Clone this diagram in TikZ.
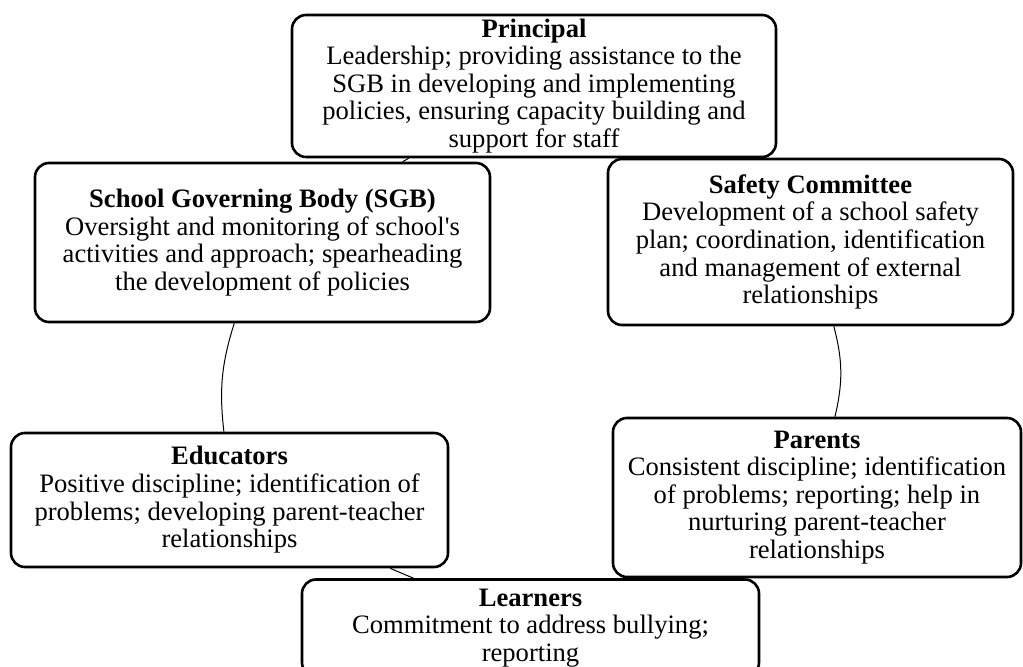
\documentclass[tikz,border=0pt]{standalone}
\usepackage{fontspec}
\setmainfont{Liberation Serif}[Ligatures=TeXOff]
\begin{document}
\begin{tikzpicture}[x=0.5pt,y=-0.5pt,
  role/.style={draw, line width=1.3pt, rounded corners=7pt, fill=white, align=center, inner sep=0pt, font=\fontsize{13.3}{13.8}\selectfont},
  link/.style={line width=0.5pt}]
\useasboundingbox (0,0) rectangle (1023,667);
\node[role, minimum width=242pt, minimum height=71pt] (prin) at (534,86)
  {\textbf{Principal}\\Leadership; providing assistance to the\\SGB in developing and implementing\\policies, ensuring capacity building and\\support for staff};
\node[role, minimum width=227.5pt, minimum height=79.5pt] (sgb) at (262.5,242.5)
  {\textbf{School Governing Body (SGB)}\\Oversight and monitoring of school's\\activities and approach; spearheading\\the development of policies};
\node[role, minimum width=202.5pt, minimum height=83pt] (saf) at (810.5,242)
  {\textbf{Safety Committee}\\Development of a school safety\\plan; coordination, identification\\and management of external\\relationships};
\node[role, minimum width=218.5pt, minimum height=67pt] (edu) at (229.5,500)
  {\textbf{Educators}\\Positive discipline; identification of\\problems; developing parent-teacher\\relationships};
\node[role, minimum width=204pt, minimum height=79.5pt] (par) at (817,497.5)
  {\textbf{Parents}\\Consistent discipline; identification\\of problems; reporting; help in\\nurturing parent-teacher\\relationships};
\node[role, minimum width=228.5pt, minimum height=48.5pt] (lea) at (530.5,628)
  {\textbf{Learners}\\Commitment to address bullying;\\reporting};
\draw[link] (prin) -- (saf);
\draw[link] (saf) to[bend left=14] (par);
\draw[link] (par) -- (lea);
\draw[link] (lea) -- (edu);
\draw[link] (edu) to[bend left=12] (sgb);
\draw[link] (sgb) -- (prin);
\end{tikzpicture}
\end{document}
